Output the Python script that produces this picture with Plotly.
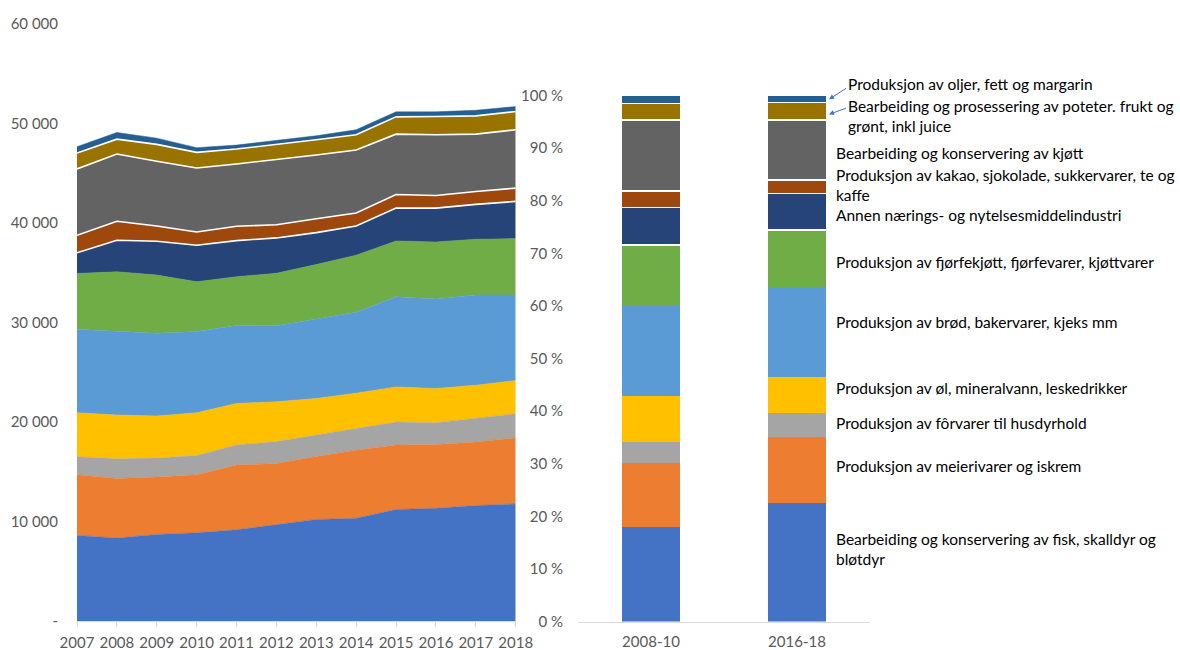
import plotly.graph_objects as go

# ---------------- data ----------------
years = list(range(2007, 2019))

categories = [
    "Bearbeiding og konservering av fisk, skalldyr og bløtdyr",
    "Produksjon av meierivarer og iskrem",
    "Produksjon av fôrvarer til husdyrhold",
    "Produksjon av øl, mineralvann, leskedrikker",
    "Produksjon av brød, bakervarer, kjeks mm",
    "Produksjon av fjørfekjøtt, fjørfevarer, kjøttvarer",
    "Annen nærings- og nytelsesmiddelindustri",
    "Produksjon av kakao, sjokolade, sukkervarer, te og kaffe",
    "Bearbeiding og konservering av kjøtt",
    "Bearbeiding og prosessering av poteter. frukt og grønt, inkl juice",
    "Produksjon av oljer, fett og margarin",
]

fisk     = [8600, 8330, 8700, 8870, 9170, 9670, 10200, 10330, 11200, 11330, 11600, 11770]
meieri   = [6100, 6000, 5770, 5830, 6500, 6160, 6330, 6840, 6500, 6400, 6400, 6630]
forvarer = [1800, 1970, 1900, 1930, 2030, 2200, 2170, 2200, 2300, 2200, 2370, 2430]
ol       = [4430, 4400, 4230, 4300, 4170, 4000, 3670, 3530, 3530, 3440, 3330, 3340]
brod     = [8400, 8400, 8330, 8170, 7830, 7640, 8000, 8130, 9070, 9000, 9070, 8600]
fjorfe   = [5600, 6000, 5840, 5000, 4900, 5280, 5460, 5740, 5600, 5730, 5600, 5660]
annen    = [2070, 3170, 3400, 3670, 3630, 3550, 3200, 2930, 3300, 3400, 3500, 3740]
kakao    = [1770, 1900, 1530, 1330, 1440, 1330, 1400, 1300, 1370, 1270, 1300, 1330]
kjott    = [6660, 6760, 6500, 6430, 6260, 6540, 6400, 6330, 6060, 6100, 5760, 5870]
poteter  = [1600, 1500, 1700, 1570, 1500, 1500, 1540, 1540, 1740, 1830, 1840, 1830]
oljer    = [640, 670, 630, 470, 400, 400, 400, 500, 500, 470, 560, 500]

series = [fisk, meieri, forvarer, ol, brod, fjorfe, annen, kakao, kjott, poteter, oljer]

periods = ["2008-10", "2016-18"]
share_2008_10 = [18.0, 12.1, 4.0, 8.8, 17.1, 11.6, 7.1, 3.1, 13.5, 3.3, 1.4]
share_2016_18 = [22.6, 12.5, 4.6, 6.7, 17.1, 10.9, 7.0, 2.5, 11.4, 3.5, 1.2]

left_tickvals = [0, 10000, 20000, 30000, 40000, 50000, 60000]
left_ticktext = ["-", "10 000", "20 000", "30 000", "40 000", "50 000", "60 000"]
right_tickvals = [0, 10, 20, 30, 40, 50, 60, 70, 80, 90, 100]
right_ticktext = [f"{v} %" for v in right_tickvals]

# label texts (as displayed, with line breaks)
label_texts = [
    "Bearbeiding og konservering av fisk, skalldyr og<br>bløtdyr",
    "Produksjon av meierivarer og iskrem",
    "Produksjon av fôrvarer til husdyrhold",
    "Produksjon av øl, mineralvann, leskedrikker",
    "Produksjon av brød, bakervarer, kjeks mm",
    "Produksjon av fjørfekjøtt, fjørfevarer, kjøttvarer",
    "Annen nærings- og nytelsesmiddelindustri",
    "Produksjon av kakao, sjokolade, sukkervarer, te og<br>kaffe",
    "Bearbeiding og konservering av kjøtt",
    "Bearbeiding og prosessering av poteter. frukt og<br>grønt, inkl juice",
    "Produksjon av oljer, fett og margarin",
]

# ---------------- style ----------------
colors = ["#4472C4", "#ED7D31", "#A5A5A5", "#FFC000", "#5B9BD5", "#70AD47",
          "#264478", "#9E480E", "#636363", "#997300", "#255E91"]
white_edge = [False, False, False, False, False, False, True, True, True, True, False]
label_pos = [(834, 548.5), (834, 466), (834, 423), (834, 388), (834, 322), (834, 262),
             (834, 215), (834, 184.5), (834, 153), (846, 115.5), (846, 84)]

W, H = 1180, 650
def px(x): return x / W
def py(y): return 1 - y / H

FONT = "Lato, Carlito, 'Open Sans', sans-serif"
TICKC = "#595959"

fig = go.Figure()

for vals, name, col, edge in zip(series, categories, colors, white_edge):
    fig.add_trace(go.Scatter(
        x=years, y=vals, name=name, stackgroup="one", mode="lines",
        line=dict(color="white" if edge else col, width=1.6 if edge else 0.5),
        fillcolor=col, xaxis="x", yaxis="y", showlegend=False,
    ))

for i, (name, col, edge) in enumerate(zip(categories, colors, white_edge)):
    fig.add_trace(go.Bar(
        x=periods, y=[share_2008_10[i], share_2016_18[i]], name=name,
        marker=dict(color=col, line=dict(color="white", width=1.5 if edge else 0)),
        xaxis="x2", yaxis="y2", showlegend=False,
    ))

annotations = []
for txt, (x, y) in zip(label_texts, label_pos):
    annotations.append(dict(
        x=px(x), y=py(y), xref="paper", yref="paper", text=txt, showarrow=False,
        xanchor="left", yanchor="middle", align="left",
        font=dict(family=FONT, size=15.5, color="black"),
    ))
# arrows
annotations.append(dict(x=px(829), y=py(99.3), xref="paper", yref="paper", text="",
                        showarrow=True, ax=18.7, ay=-12, arrowhead=2, arrowsize=1,
                        arrowwidth=1, arrowcolor="#4472C4", standoff=0))
annotations.append(dict(x=px(829), y=py(114.3), xref="paper", yref="paper", text="",
                        showarrow=True, ax=18.5, ay=-6.6, arrowhead=2, arrowsize=1,
                        arrowwidth=1, arrowcolor="#4472C4", standoff=0))

fig.update_layout(
    width=W, height=H,
    margin=dict(l=0, r=0, t=0, b=0, autoexpand=False),
    paper_bgcolor="white", plot_bgcolor="white",
    font=dict(family=FONT, size=15, color=TICKC),
    barmode="stack", bargap=0.596,
    xaxis=dict(domain=[px(77), px(515.7)], range=[2007, 2018], tickvals=years,
               showgrid=False, zeroline=False, showline=True, linecolor="#D9D9D9",
               ticks="outside", ticklen=5, tickcolor="#D9D9D9", anchor="y",
               ticklabelstandoff=3, automargin=False,
               tickfont=dict(size=15, color=TICKC)),
    yaxis=dict(domain=[py(621), py(24)], range=[0, 60000], tickvals=left_tickvals,
               ticktext=left_ticktext, showgrid=False, zeroline=False, showline=False,
               ticks="", ticklabelstandoff=18, anchor="x", automargin=False,
               tickfont=dict(size=15, color=TICKC)),
    xaxis2=dict(domain=[px(578), px(870)], type="category", range=[-0.5, 1.5],
                showgrid=False, zeroline=False, showline=True, linecolor="#D9D9D9",
                ticks="", anchor="y2", ticklabelstandoff=6, automargin=False,
                tickfont=dict(size=15, color=TICKC)),
    yaxis2=dict(domain=[py(621.5), py(95.5)], range=[0, 100], tickvals=right_tickvals,
                ticktext=right_ticktext, showgrid=False, zeroline=False, showline=False,
                ticks="", ticklabelstandoff=14, anchor="x2", automargin=False,
                tickfont=dict(size=15, color=TICKC)),
    annotations=annotations,
)

fig.write_html("out.html")
